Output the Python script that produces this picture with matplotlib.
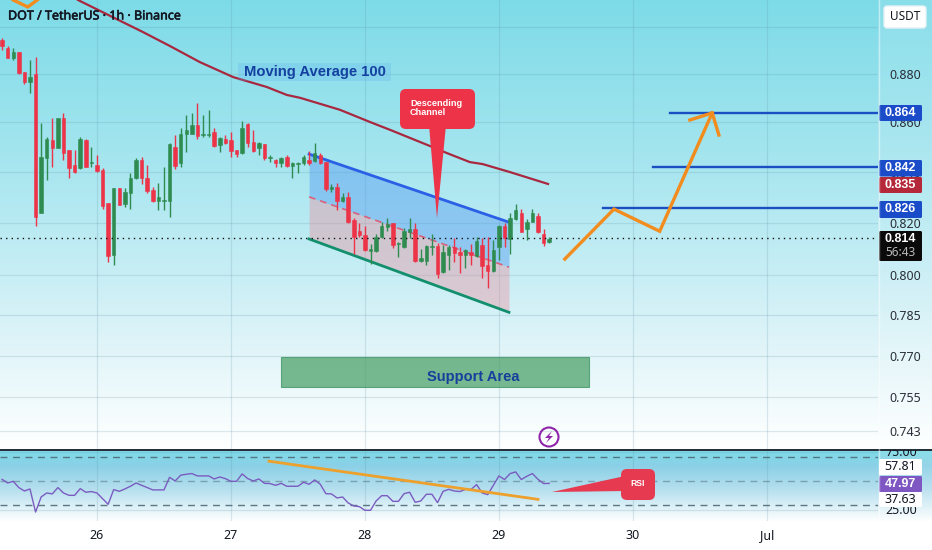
import numpy as np
import matplotlib
matplotlib.use("Agg")
import matplotlib.pyplot as plt
import matplotlib.patheffects as pe
from matplotlib.patches import FancyBboxPatch, Polygon, Rectangle, Circle
from matplotlib.transforms import Bbox

# Hourly candles, hours counted from 26 Jun 00:00
first_hour = -17
opens = [.8943, .8909, .8866, .8892, .8808, .8767, .8800, .8238, .8456, .8529,
         .8497, .8618, .8489, .8428, .8416, .8529, .8436, .8428, .8408, .8278,
         .8076, .8337, .8274, .8318, .8377, .8448, .8377, .8329, .8286, .8286,
         .8286, .8501, .8436, .8553, .8553, .8590, .8549, .8549, .8561, .8509,
         .8533, .8529, .8489, .8476, .8594, .8521, .8497, .8513, .8456, .8448,
         .8436, .8460, .8424, .8432, .8436, .8448, .8444, .8468, .8440, .8333,
         .8341, .8286, .8302, .8211, .8168, .8153, .8092, .8092, .8145, .8184,
         .8199, .8119, .8107, .8165, .8176, .8053, .8053, .8107, .8111, .8011,
         .8076, .8107, .8088, .8076, .8088, .8073, .8115, .8038, .8015, .8107,
         .8188, .8138, .8215, .8238, .8176, .8203, .8227, .8157, .8126]
closes = [.8917, .8866, .8892, .8804, .8767, .8787, .8223, .8460, .8533, .8497,
          .8618, .8476, .8416, .8400, .8533, .8420, .8440, .8404, .8266, .8073,
          .8337, .8270, .8321, .8377, .8448, .8377, .8325, .8286, .8302, .8290,
          .8513, .8424, .8553, .8570, .8590, .8545, .8553, .8553, .8505, .8537,
          .8517, .8485, .8472, .8578, .8517, .8485, .8517, .8456, .8460, .8436,
          .8456, .8424, .8436, .8436, .8460, .8436, .8476, .8436, .8333, .8341,
          .8286, .8302, .8203, .8145, .8153, .8096, .8099, .8145, .8188, .8196,
          .8115, .8122, .8168, .8176, .8053, .8065, .8111, .8111, .8004, .8088,
          .8107, .8084, .8076, .8096, .8076, .8130, .8034, .8015, .8096, .8188,
          .8142, .8219, .8250, .8165, .8203, .8238, .8165, .8122, .8138]
highs = [.8951, .8917, .8909, .8892, .8808, .8858, .8871, .8598, .8541, .8618,
         .8618, .8639, .8489, .8489, .8541, .8533, .8501, .8468, .8416, .8278,
         .8337, .8337, .8337, .8396, .8456, .8460, .8428, .8341, .8357, .8420,
         .8517, .8549, .8578, .8631, .8639, .8680, .8631, .8651, .8578, .8541,
         .8549, .8561, .8489, .8606, .8598, .8570, .8521, .8513, .8468, .8452,
         .8460, .8468, .8440, .8440, .8468, .8485, .8517, .8476, .8440, .8353,
         .8357, .8318, .8321, .8219, .8199, .8188, .8119, .8157, .8203, .8219,
         .8199, .8126, .8180, .8219, .8199, .8099, .8115, .8157, .8122, .8115,
         .8115, .8142, .8107, .8099, .8119, .8145, .8142, .8145, .8134, .8192,
         .8199, .8238, .8274, .8254, .8215, .8254, .8238, .8176, .8145]
lows = [.8900, .8866, .8858, .8800, .8758, .8721, .8188, .8238, .8369, .8420,
        .8497, .8448, .8377, .8396, .8413, .8420, .8420, .8400, .8254, .8050,
        .8038, .8270, .8262, .8254, .8373, .8353, .8318, .8282, .8250, .8250,
        .8223, .8413, .8420, .8480, .8553, .8533, .8541, .8541, .8501, .8480,
        .8513, .8460, .8460, .8472, .8501, .8480, .8468, .8448, .8440, .8420,
        .8420, .8420, .8377, .8396, .8428, .8428, .8440, .8432, .8325, .8321,
        .8250, .8282, .8199, .8080, .8145, .8092, .8042, .8088, .8142, .8168,
        .8103, .8069, .8103, .8142, .8050, .8050, .8038, .8076, .7989, .8008,
        .8019, .8050, .8008, .8027, .8038, .8069, .7989, .7951, .8011, .8057,
        .8107, .8080, .8211, .8165, .8134, .8203, .8161, .8111, .8122]
rsi = [51.4, 48.3, 49.7, 44.4, 41.5, 43.2, 23.6, 36.4, 39.8, 39.0,
       44.4, 39.8, 37.8, 37.8, 43.5, 40.4, 41.0, 39.8, 35.0, 30.2,
       42.7, 41.2, 43.2, 45.5, 48.3, 46.3, 44.4, 42.4, 42.4, 42.4,
       53.1, 50.0, 54.9, 55.7, 56.3, 54.3, 54.3, 54.3, 51.7, 53.4,
       52.0, 49.7, 49.7, 56.0, 52.0, 50.0, 51.7, 48.0, 47.8, 46.3,
       48.0, 45.5, 45.5, 45.5, 48.9, 47.2, 50.9, 47.2, 39.2, 39.0,
       35.6, 36.4, 31.3, 28.8, 28.2, 25.1, 25.1, 33.0, 37.5, 37.5,
       32.7, 32.7, 39.2, 40.4, 31.9, 33.0, 38.7, 38.7, 31.6, 41.2,
       42.9, 41.5, 41.0, 42.9, 42.7, 46.9, 39.8, 38.4, 46.3, 54.3,
       51.2, 56.3, 57.7, 51.2, 54.0, 56.3, 51.4, 47.8, 47.97]

# 100 period moving average
ma_hours = [-3.4, 8.2, 13.1, 18.4, 24.4, 30.4, 34, 36.4, 43.5, 48.9, 52.5, 59.6, 62.7, 66.8, 69.1, 74, 80.8]
ma_values = [.9114, .8977, .8917, .8850, .8787, .8746, .8713, .8701, .8652, .8602, .8570, .8505, .8476, .8440, .8432, .8400, .8353]

# Drawings
channel_hours = [38, 73.8]
channel_upper = [.8472, .8203]
channel_mid = [.8302, .8030]
channel_lower = [.8138, .7860]
path_hours = [83.8, 92.6, 100.8, 110.2]
path_prices = [.8061, .8254, .8168, .8639]
head_hours = [106.2, 110.2, 111.4]
head_prices = [.8610, .8639, .8549]
old_hours = [-15, -12.4, -10.7]
old_prices = [.9114, .9084, .9114]
target_prices = [.864, .842, .826]
target_starts = [102.6, 99.6, 90.6]
support_hours = [33, 88.1]
support_prices = [.7586, .7695]
rsi_trend_hours = [30.8, 79]
rsi_trend_values = [66.8, 34.4]
last_price = .814

price_ticks = [.900, .880, .860, .840, .820, .800, .785, .770, .755, .743]
price_labels = ["", "0.880", "0.860", "0.840", "0.820", "0.800", "0.785", "0.770", "0.755", "0.743"]
day_ticks = [0, 24, 48, 72, 96, 120]
day_labels = ["26", "27", "28", "29", "30", "Jul"]

FONT = "Noto Sans"
BOLD_FONT = "Liberation Sans"
RED = "#ec3347"
GREEN = "#2f8c50"
ORANGE = "#f28c1e"
LINE_BLUE = "#1a4fc4"
GRID = "#5f8fa3"
TEXT = "#131722"
W, H = 932, 550
PANE_R = 878

plt.rcParams["font.family"] = FONT
fig = plt.figure(figsize=(W / 100, H / 100), dpi=100)

# Background gradient over the whole picture
stops_y = [0, 140, 275, 350, 445, 449, 450, 465, 490, 521, 550]
stops_rgb = np.array([[125, 219, 232], [160, 228, 238], [200, 238, 245], [225, 245, 249],
                      [254, 255, 255], [255, 255, 255], [125, 219, 232],
                      [138, 208, 230], [184, 224, 239], [255, 255, 255], [255, 255, 255]]) / 255
rows = np.arange(H)
grad = np.stack([np.interp(rows, stops_y, stops_rgb[:, i]) for i in range(3)], axis=1)[:, None, :]
bg = fig.add_axes([0, 0, 1, 1], zorder=0)
bg.imshow(grad, aspect="auto", extent=[0, W, H, 0])
bg.axis("off")

# Price pane
ax = fig.add_axes([0, (H - 449) / H, PANE_R / W, 449 / H], zorder=1)
ax.patch.set_visible(False)
ax.set_yscale("log")
ax.set_xlim(-17.37, 139.9)
ax.set_ylim(.7367, .9114)
ax.yaxis.tick_right()
ax.yaxis.set_minor_locator(plt.NullLocator())
ax.set_yticks(price_ticks)
ax.set_yticklabels(price_labels, fontsize=9, color=TEXT)
ax.set_xticks(day_ticks)
ax.tick_params(axis="x", length=0, labelbottom=False)
ax.tick_params(axis="y", length=0, pad=8)
ax.grid(True, color=GRID, alpha=0.2, linewidth=0.9)
ax.set_axisbelow(True)
for s in ax.spines.values():
    s.set_visible(False)

# Channel
ax.fill_between(channel_hours, channel_mid, channel_upper, color="#4f97f0", alpha=0.42, linewidth=0, zorder=1)
ax.fill_between(channel_hours, channel_lower, channel_mid, color="#ee8a98", alpha=0.38, linewidth=0, zorder=1)
ax.plot(channel_hours, channel_upper, color="#2a5fe6", linewidth=2, zorder=2)
ax.plot(channel_hours, channel_mid, color="#d9607c", linewidth=1.2, linestyle=(0, (4, 3)), zorder=2)
ax.plot(channel_hours, channel_lower, color="#128f6c", linewidth=2, zorder=2)

# Candles
hours = first_hour + np.arange(len(opens))
opens_a, closes_a = np.array(opens), np.array(closes)
colors = [GREEN if c >= o else RED for o, c in zip(opens, closes)]
ax.vlines(hours, lows, highs, colors=colors, linewidth=1, zorder=3)
ax.bar(hours, np.abs(closes_a - opens_a), bottom=np.minimum(opens_a, closes_a), width=0.62,
       color=colors, edgecolor=colors, linewidth=0.4, zorder=4)

ax.axhline(last_price, color="#111111", linewidth=1, linestyle=(0, (1, 3)), zorder=5)
ax.plot(ma_hours, ma_values, color="#a8283f", linewidth=1.6, zorder=5, clip_on=True)

for p, start in zip(target_prices, target_starts):
    ax.plot([start, 139.9], [p, p], color=LINE_BLUE, linewidth=1.7, zorder=5)

ax.plot(path_hours, path_prices, color=ORANGE, linewidth=2.4, zorder=6, solid_joinstyle="miter")
ax.plot(head_hours, head_prices, color=ORANGE, linewidth=2.4, zorder=6, solid_joinstyle="miter")
ax.plot(old_hours, old_prices, color=ORANGE, linewidth=2.4, zorder=6, solid_joinstyle="miter")

ax.fill_between(support_hours, support_prices[0], support_prices[1], color="#3f9a5c", alpha=0.68,
                linewidth=0.8, edgecolor="#2e8b57", zorder=2)

# RSI pane
rsi_ax = fig.add_axes([0, (H - 521) / H, PANE_R / W, 71 / H], zorder=1)
rsi_ax.patch.set_visible(False)
rsi_ax.set_xlim(-17.37, 139.9)
rsi_ax.set_ylim(16, 76.3)
rsi_ax.set_xticks(day_ticks)
rsi_ax.set_xticklabels(day_labels, fontsize=9, color=TEXT)
rsi_ax.set_yticks([25, 75])
rsi_ax.tick_params(axis="both", length=0, labelleft=False)
rsi_ax.tick_params(axis="x", pad=6)
rsi_ax.grid(True, color=GRID, alpha=0.2, linewidth=0.9)
rsi_ax.set_axisbelow(True)
for s in rsi_ax.spines.values():
    s.set_visible(False)
for level in [70, 50, 30]:
    rsi_ax.axhline(level, color="#4d6b78", alpha=0.9 if level != 50 else 0.5, linewidth=1, linestyle=(0, (5, 4)))
rsi_ax.plot(hours, rsi, color="#7a5cc0", linewidth=1)
rsi_ax.plot(rsi_trend_hours, rsi_trend_values, color="#eda02c", linewidth=2)

# Overlay in pixels for the labels and callouts
top = fig.add_axes([0, 0, 1, 1], zorder=3)
top.set_xlim(0, W)
top.set_ylim(H, 0)
top.axis("off")

top.plot([0, W], [449.5, 449.5], color="#222b35", linewidth=1.4)
top.add_patch(Rectangle((PANE_R, 0), W - PANE_R, 449, fc="white", alpha=0.1, lw=0))
top.add_patch(Rectangle((PANE_R, 450), W - PANE_R, 71, fc="white", alpha=0.1, lw=0))
top.plot([PANE_R + 0.5, PANE_R + 0.5], [0, 449], color="white", alpha=0.45, linewidth=1)
top.plot([PANE_R + 0.5, PANE_R + 0.5], [450, 521], color="white", alpha=0.45, linewidth=1)

title = top.text(8, 16, "DOT / TetherUS · 1h · Binance", fontsize=9, color=TEXT, va="center")
title.set_path_effects([pe.withStroke(linewidth=0.4, foreground=TEXT)])

# USDT button
top.add_patch(FancyBboxPatch((884, 6), 42, 22, boxstyle="round,pad=0,rounding_size=3", fc="white", ec="#e4f2f5", lw=1))
top.text(905, 17, "USDT", fontsize=8.5, color=TEXT, ha="center", va="center")

# Moving average label
top.add_patch(Rectangle((238, 63), 153, 18, fc="#5aa8f0", alpha=0.22, lw=0))
top.text(314.5, 72, "Moving Average 100", fontsize=10.6, color="#14409f", ha="center", va="center",
         fontweight="bold", family=BOLD_FONT)

top.text(473, 377, "Support Area", fontsize=10.5, color="#173f9c", ha="center", va="center",
         fontweight="bold", family=BOLD_FONT)

# Descending channel callout
top.add_patch(Polygon([(429, 125), (446, 125), (437, 218)], fc=RED, lw=0))
top.add_patch(FancyBboxPatch((400, 89), 75, 40, boxstyle="round,pad=0,rounding_size=6", fc=RED, lw=0))
top.text(410, 108, "Descending\nChannel", fontsize=6.6, color="white", ha="left", va="center",
         fontweight="bold", family=BOLD_FONT, linespacing=1.05)

# RSI callout
top.add_patch(Polygon([(552, 492), (625, 476), (625, 491)], fc="#e63a50", lw=0))
top.add_patch(FancyBboxPatch((621, 469), 34, 31, boxstyle="round,pad=0,rounding_size=6", fc="#e63a50", lw=0))
top.text(638, 484, "RSI", fontsize=6.2, color="white", ha="center", va="center", fontweight="bold", family=BOLD_FONT)

# Flash icon
top.add_patch(Circle((549, 437), 9.5, fc="none", ec="#8e24aa", lw=1.5))
top.add_patch(Polygon([(552, 431), (545, 438), (549, 438), (546, 443), (553, 436), (549, 436)], fc="#8e24aa", lw=0))

# Clipped scale labels of the RSI pane, display rows counted from the bottom
for txt, y, row0, row1 in [("75.00", 452, 450, 476), ("25.00", 511, 507, 530)]:
    t = top.text(901, y, txt, fontsize=9, color=TEXT, ha="center", va="center")
    t.set_clip_box(Bbox([[PANE_R, H - row1], [W, H - row0]]))
    t.set_clip_on(True)

# Price tags
def price_tag(y0, y1, text, face, color="white", bold=True):
    top.add_patch(FancyBboxPatch((879, y0), 43, y1 - y0, boxstyle="round,pad=0,rounding_size=1.5", fc=face, lw=0))
    if bold:
        top.text(900.5, (y0 + y1) / 2, text, fontsize=9, color=color, ha="center", va="center",
                 fontweight="bold", family=BOLD_FONT)
    else:
        top.text(900.5, (y0 + y1) / 2, text, fontsize=9, color=color, ha="center", va="center")

price_tag(105, 121, "0.864", "#1a4bc8")
price_tag(160, 176.5, "0.842", "#1a4bc8")
price_tag(177, 193, "0.835", "#b5283a")
price_tag(201, 218, "0.826", "#1a4bc8")

top.add_patch(FancyBboxPatch((879, 231), 43, 30, boxstyle="round,pad=0,rounding_size=1.5", fc="#0a0a0a", lw=0))
top.text(900.5, 239.5, "0.814", fontsize=9, color="white", ha="center", va="center", fontweight="bold", family=BOLD_FONT)
top.text(900.5, 253, "56:43", fontsize=8.5, color="#b8b8b8", ha="center", va="center")

price_tag(459, 475, "57.81", "white", TEXT, False)
price_tag(476, 492, "47.97", "#7e57c2")
price_tag(492, 507, "37.63", "white", TEXT, False)

fig.savefig("out.png", dpi=100)
